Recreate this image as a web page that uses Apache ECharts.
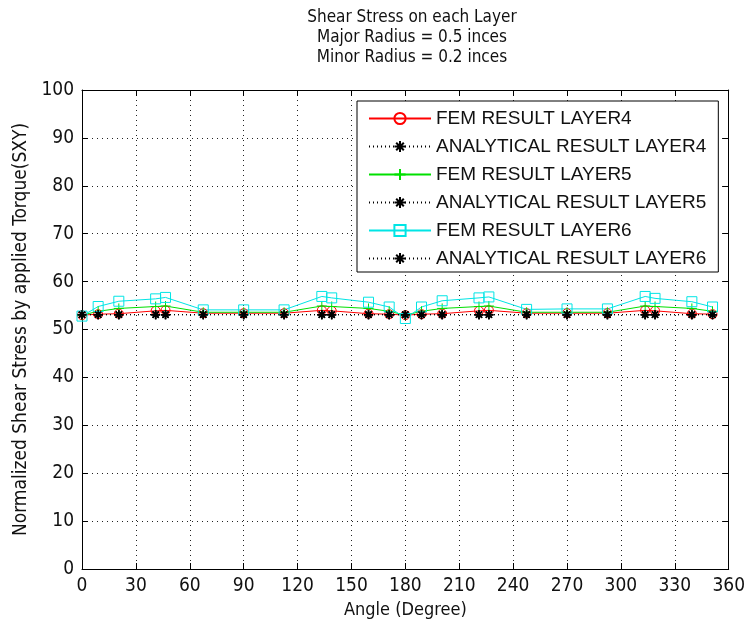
<!DOCTYPE html>
<html>
<head>
<meta charset="utf-8">
<script src="https://cdn.jsdelivr.net/npm/echarts@6/dist/echarts.min.js"></script>
<style>html,body{margin:0;padding:0;background:#fff;}#c{width:748px;height:625px;}</style>
</head>
<body>
<div id="c"></div>
<script>
// ---- data ----
var angles = [0, 9, 20.5, 41, 46.5, 67.5, 90, 112.5, 133.5, 139, 159.5, 171, 180, 189, 200.5, 221, 226.5, 247.5, 270, 292.5, 313.5, 319, 339.5, 351];
var femLayer4 = [53.0, 53.2, 53.3, 53.9, 54.0, 53.4, 53.4, 53.4, 54.0, 53.9, 53.3, 53.2, 53.0, 53.2, 53.3, 53.9, 54.0, 53.4, 53.4, 53.4, 54.0, 53.9, 53.3, 53.2];
var anaLayer4 = [53.1, 53.1, 53.1, 53.1, 53.1, 53.1, 53.1, 53.1, 53.1, 53.1, 53.1, 53.1, 53.1, 53.1, 53.1, 53.1, 53.1, 53.1, 53.1, 53.1, 53.1, 53.1, 53.1, 53.1];
var femLayer5 = [53.0, 53.8, 54.4, 54.8, 54.9, 53.6, 53.6, 53.6, 54.9, 54.8, 54.4, 53.8, 53.0, 53.8, 54.4, 54.8, 54.9, 53.6, 53.6, 53.6, 54.9, 54.8, 54.4, 53.8];
var anaLayer5 = [53.1, 53.1, 53.1, 53.1, 53.1, 53.1, 53.1, 53.1, 53.1, 53.1, 53.1, 53.1, 53.1, 53.1, 53.1, 53.1, 53.1, 53.1, 53.1, 53.1, 53.1, 53.1, 53.1, 53.1];
var femLayer6 = [52.8, 54.8, 55.9, 56.4, 56.7, 54.1, 54.1, 54.1, 56.9, 56.6, 55.7, 54.7, 52.3, 54.7, 56.0, 56.6, 56.8, 54.2, 54.3, 54.3, 56.9, 56.5, 55.8, 54.7];
var anaLayer6 = [53.1, 53.1, 53.1, 53.1, 53.1, 53.1, 53.1, 53.1, 53.1, 53.1, 53.1, 53.1, 53.1, 53.1, 53.1, 53.1, 53.1, 53.1, 53.1, 53.1, 53.1, 53.1, 53.1, 53.1];
var seriesNames = ['FEM RESULT LAYER4', 'ANALYTICAL RESULT LAYER4', 'FEM RESULT LAYER5', 'ANALYTICAL RESULT LAYER5', 'FEM RESULT LAYER6', 'ANALYTICAL RESULT LAYER6'];
var titleLines = ['Shear Stress on each Layer', 'Major Radius = 0.5 inces', 'Minor Radius = 0.2 inces'];
var xTitle = 'Angle (Degree)';
var yTitle = 'Normalized Shear Stress by applied Torque(SXY)';

function pairs(ys) { return angles.map(function (a, i) { return [a, ys[i]]; }); }

var NARROW = "'Liberation Sans Narrow', 'DejaVu Sans Condensed', 'Arial Narrow', sans-serif";
var SANS = "'Liberation Sans', Arial, sans-serif";

var STAR = 'path://M5,0L5,10M0,5L10,5M1.6,1.6L8.4,8.4M1.6,8.4L8.4,1.6';
var PLUS = 'path://M5,0L5,10M0,5L10,5';
var SQUARE = 'path://M0,0L10,0L10,10L0,10Z';
var CIRCLE = 'path://M10,5A5,5,0,1,1,0,5A5,5,0,1,1,10,5Z';

function femSeries(name, ys, color, symbol, size) {
  return {
    name: name, type: 'line', data: pairs(ys),
    symbol: symbol, symbolSize: size,
    color: color,
    lineStyle: { color: color, width: 1 },
    itemStyle: { color: 'rgba(0,0,0,0)', borderColor: color, borderWidth: 1 },
    emphasis: { disabled: true },
    animation: false
  };
}
function anaSeries(name, ys) {
  return {
    name: name, type: 'line', data: pairs(ys),
    symbol: STAR, symbolSize: 9,
    color: '#000',
    lineStyle: { color: '#000', width: 1, type: [1, 3] },
    itemStyle: { color: 'rgba(0,0,0,0)', borderColor: '#000', borderWidth: 1.5 },
    emphasis: { disabled: true },
    animation: false
  };
}

var gridLine = { show: true, lineStyle: { color: '#222', width: 1, type: [1, 4] } };

var chart = echarts.init(document.getElementById('c'), null, { renderer: 'canvas' });
chart.setOption({
  backgroundColor: '#fff',
  animation: false,
  title: {
    text: titleLines.join('\n'),
    left: 407, top: 3, textAlign: 'center',
    textStyle: { fontFamily: NARROW, fontSize: 17, fontWeight: 'normal', color: '#111', lineHeight: 20 }
  },
  grid: { left: 82, right: 16, top: 90, bottom: 56, containLabel: false },
  legend: {
    orient: 'vertical',
    left: 357, top: 101,
    padding: [8, 12, 4, 11],
    itemWidth: 62, itemHeight: 14, itemGap: 9,
    backgroundColor: '#fff',
    borderColor: '#000', borderWidth: 1, borderRadius: 0,
    textStyle: { fontFamily: SANS, fontSize: 19, color: '#111' },
    data: seriesNames
  },
  xAxis: [{
    type: 'value', min: 0, max: 360, interval: 30,
    name: xTitle, nameLocation: 'middle', nameGap: 30,
    nameTextStyle: { fontFamily: NARROW, fontSize: 18, color: '#111' },
    axisLine: { show: true, onZero: false, lineStyle: { color: '#000', width: 1 } },
    axisTick: { show: true, inside: true, length: 6, lineStyle: { color: '#000' } },
    axisLabel: { fontFamily: NARROW, fontSize: 19, color: '#111', margin: 8 },
    splitLine: gridLine
  }, {
    type: 'value', min: 0, max: 360, interval: 30, position: 'top',
    axisLine: { show: true, onZero: false, lineStyle: { color: '#000', width: 1 } },
    axisTick: { show: true, inside: true, length: 6, lineStyle: { color: '#000' } },
    axisLabel: { show: false }, splitLine: { show: false }
  }],
  yAxis: [{
    type: 'value', min: 0, max: 100, interval: 10,
    name: yTitle, nameLocation: 'middle', nameGap: 50, nameRotate: 90,
    nameTextStyle: { fontFamily: NARROW, fontSize: 19, color: '#111' },
    axisLine: { show: true, onZero: false, lineStyle: { color: '#000', width: 1 } },
    axisTick: { show: true, inside: true, length: 6, lineStyle: { color: '#000' } },
    axisLabel: { fontFamily: NARROW, fontSize: 19, color: '#111', margin: 8 },
    splitLine: gridLine
  }, {
    type: 'value', min: 0, max: 100, interval: 10, position: 'right',
    axisLine: { show: true, onZero: false, lineStyle: { color: '#000', width: 1 } },
    axisTick: { show: true, inside: true, length: 6, lineStyle: { color: '#000' } },
    axisLabel: { show: false }, splitLine: { show: false }
  }],
  series: [
    femSeries(seriesNames[0], femLayer4, '#ff0000', CIRCLE, 9),
    anaSeries(seriesNames[1], anaLayer4),
    femSeries(seriesNames[2], femLayer5, '#00e000', PLUS, 10),
    anaSeries(seriesNames[3], anaLayer5),
    femSeries(seriesNames[4], femLayer6, '#00e5e5', SQUARE, 10),
    anaSeries(seriesNames[5], anaLayer6)
  ]
});
</script>
</body>
</html>
